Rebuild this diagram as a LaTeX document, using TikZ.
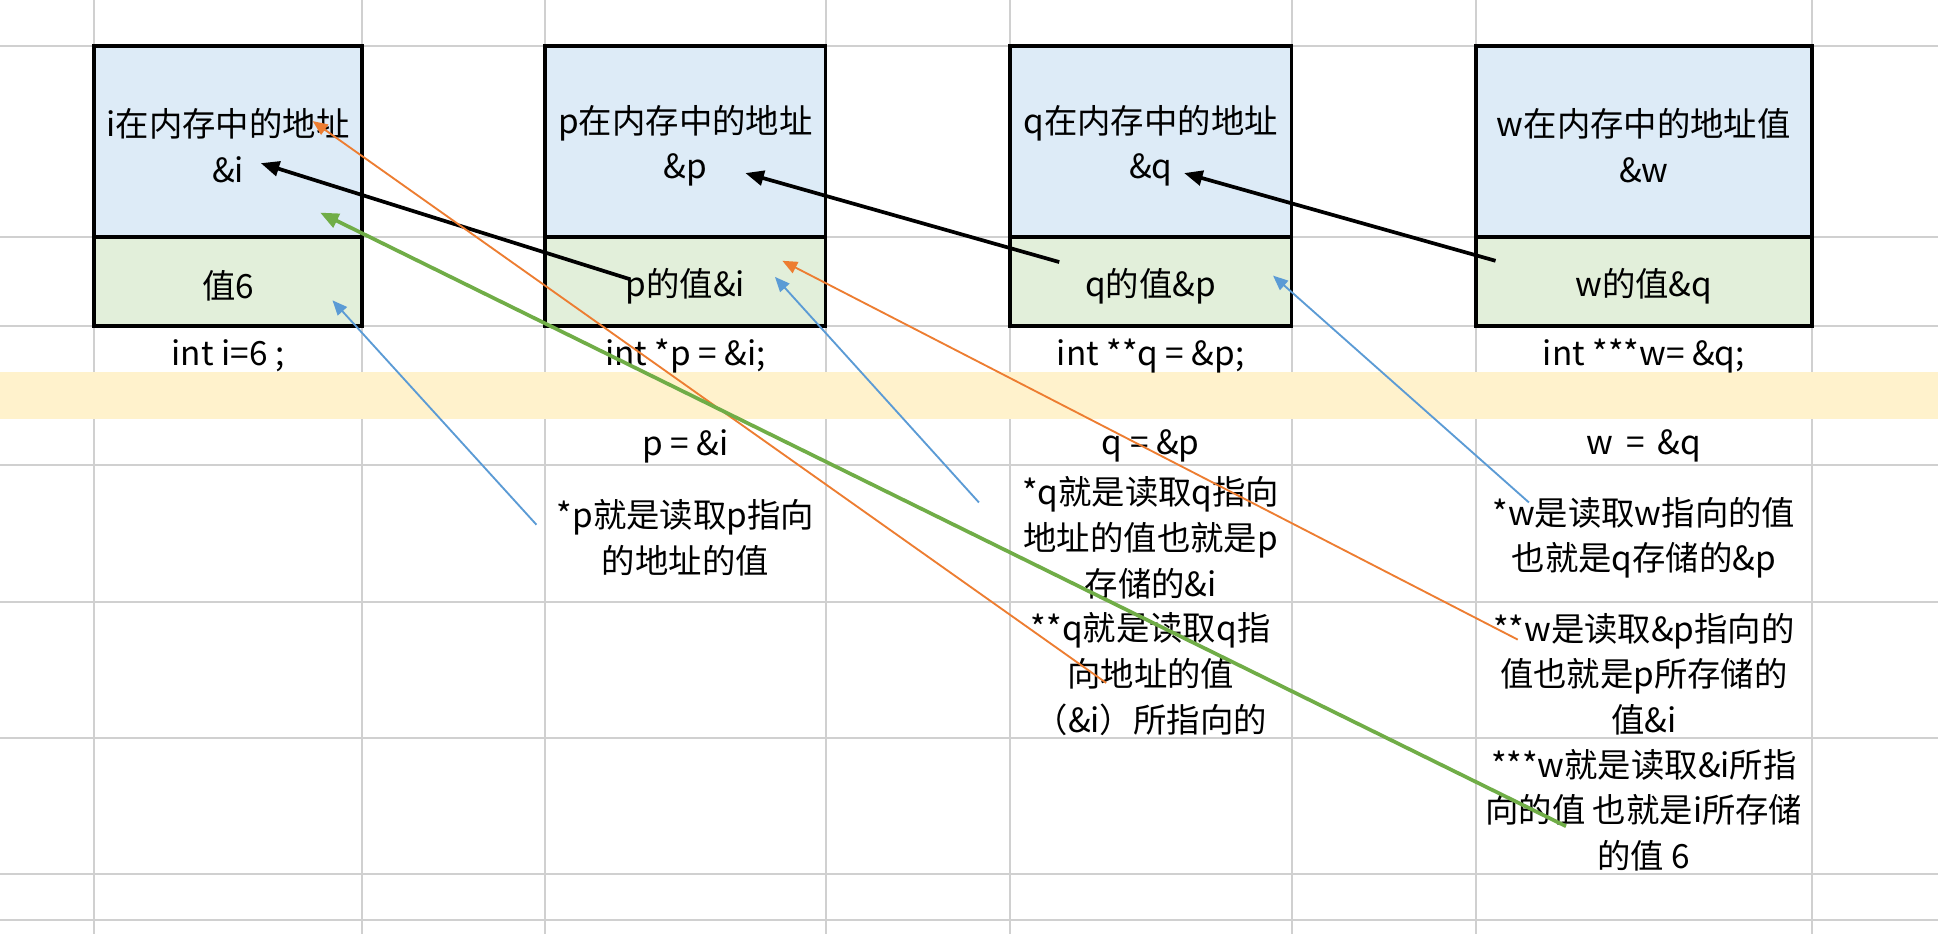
\documentclass[tikz,border=0pt]{standalone}
\usepackage{fontspec}
\setmainfont{Noto Sans CJK SC}
\usetikzlibrary{arrows.meta,positioning}
\definecolor{addrblue}{HTML}{DDEBF7}
\definecolor{valgreen}{HTML}{E2EFDA}
\definecolor{bandyellow}{HTML}{FFF2CC}
\definecolor{gridgray}{HTML}{D0D0D0}
\definecolor{ptrorange}{HTML}{ED7D31}
\definecolor{ptrblue}{HTML}{5B9BD5}
\definecolor{ptrgreen}{HTML}{70AD47}
\begin{document}
\begin{tikzpicture}[x=1pt,y=-1pt,
  lbl/.style={font=\fontsize{27}{37}\selectfont,align=center,inner sep=0pt,yshift=-3.5pt},
  addr/.style={draw,line width=3pt,fill=addrblue,minimum height=155pt,outer sep=0pt},
  val/.style={draw,line width=3pt,fill=valgreen,minimum height=72pt,outer sep=0pt},
  thickptr/.style={line width=3pt,-{Triangle[length=15pt,width=12pt]}},
  thinptr/.style={line width=1.5pt,-{Triangle[length=12pt,width=10pt]}}]

\useasboundingbox (0,0) rectangle (1568,756);
\fill[white] (0,0) rectangle (1568,756);
\foreach \x in {76,293,441,668,817,1045,1194,1466}
  \draw[gridgray,line width=1.5pt] (\x,0) -- (\x,756);
\foreach \y in {37,192,264,376,487,597,707,744}
  \draw[gridgray,line width=1.5pt] (0,\y) -- (1568,\y);
\fill[bandyellow] (0,301) rectangle (1568,339);

\node[addr,minimum width=217pt,label={[lbl]center:i在内存中的地址\\\&i}] (iaddr) at (184.5,114.5) {};
\node[val,minimum width=217pt,below=0pt of iaddr,label={[lbl]center:值6}] (ival) {};
\node[addr,minimum width=227pt,label={[lbl]center:p在内存中的地址\\\&p}] (paddr) at (554.5,114.5) {};
\node[val,minimum width=227pt,below=0pt of paddr,label={[lbl]center:p的值\&i}] (pval) {};
\node[addr,minimum width=228pt,label={[lbl]center:q在内存中的地址\\\&q}] (qaddr) at (931,114.5) {};
\node[val,minimum width=228pt,below=0pt of qaddr,label={[lbl]center:q的值\&p}] (qval) {};
\node[addr,minimum width=272pt,label={[lbl]center:w在内存中的地址值\\\&w}] (waddr) at (1330,114.5) {};
\node[val,minimum width=272pt,below=0pt of waddr,label={[lbl]center:w的值\&q}] (wval) {};

\node[lbl] (idecl) at (184.5,284.5) {int i=6 ;};
\node[lbl] (pdecl) at (554.5,284.5) {int *p = \&i;};
\node[lbl] (qdecl) at (931,284.5) {int **q = \&p;};
\node[lbl] (wdecl) at (1330,284.5) {int ***w= \&q;};

\node[lbl] (passign) at (554.5,357.5) {p = \&i};
\node[lbl] (qassign) at (931,357.5) {q = \&p};
\node[lbl] (wassign) at (1330,357.5) {w \,=\, \&q};

\node[lbl] (pderef) at (554.5,431.5) {*p就是读取p指向\\的地址的值};
\node[lbl] (qderef) at (931,431.5) {*q就是读取q指向\\地址的值也就是p\\存储的\&i};
\node[lbl] (wderef) at (1330,431.5) {*w是读取w指向的值\\也就是q存储的\&p};
\node[lbl] (qderef2) at (931,542) {**q就是读取q指\\向地址的值\\（\&i）所指向的};
\node[lbl] (wderef2) at (1330,542) {**w是读取\&p指向的\\值也就是p所存储的\\值\&i};
\node[lbl] (wderef3) at (1330,652) {***w就是读取\&i所指\\向的值 也就是i所存储\\的值 6};

\draw[thickptr] ([shift={(-44.5,-2)}]pval.center) -- ([shift={(26.5,17.5)}]iaddr.center);
\draw[thickptr] ([shift={(-74,-16)}]qval.center) -- ([shift={(48.5,25.5)}]paddr.center);
\draw[thickptr] ([shift={(-120,-17)}]wval.center) -- ([shift={(27,25.5)}]qaddr.center);

\draw[thinptr,ptrorange] ([shift={(-36,7)}]qderef2.center) -- ([shift={(68.5,-16.5)}]iaddr.center);
\draw[thinptr,ptrorange] ([shift={(-102,-28)}]wderef2.center) -- ([shift={(78.5,-17)}]pval.center);

\draw[thinptr,ptrblue] ([shift={(-120.5,-10.5)}]pderef.center) -- ([shift={(84.5,15)}]ival.center);
\draw[thinptr,ptrblue] ([shift={(-139,-28.5)}]qderef.center) -- ([shift={(72.5,-4)}]pval.center);
\draw[thinptr,ptrblue] ([shift={(-93,-28.5)}]wderef.center) -- ([shift={(99,-5)}]qval.center);

\draw[thickptr,ptrgreen] ([shift={(-63,13)}]wderef3.center) -- ([shift={(74.5,57.5)}]iaddr.center);
\end{tikzpicture}
\end{document}
